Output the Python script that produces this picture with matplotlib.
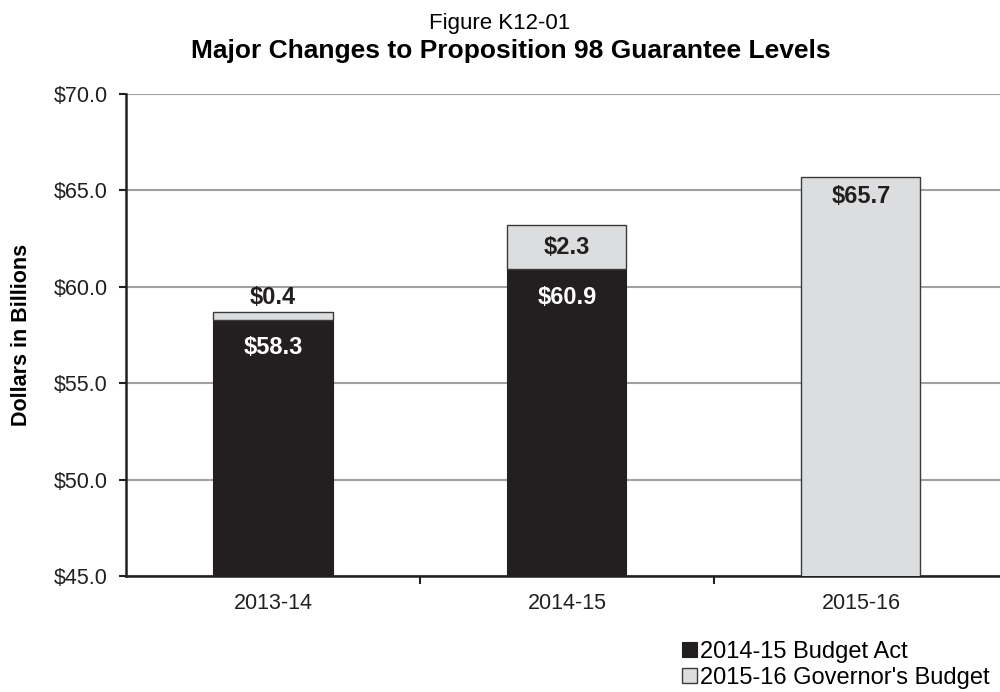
import matplotlib.pyplot as plt
import numpy as np

plt.rcParams['font.family'] = ['Liberation Sans', 'DejaVu Sans']

years = ['2013-14', '2014-15', '2015-16']
budget_act = [58.3, 60.9, 0.0]  # 2014-15 Budget Act
gov_change = [0.4, 2.3, 65.7]   # 2015-16 Governor's Budget (increment on top)
act_labels = ['$58.3', '$60.9', None]
gov_labels = ['$0.4', '$2.3', '$65.7']

black = '#231f20'
light = '#dcdddf'

fig = plt.figure(figsize=(10, 6.92), dpi=100)
ax = fig.add_axes([0.126, 0.1676, 0.874, 0.6965])

x = np.arange(len(years))
w = 0.405
ax.bar(x, budget_act, w, color=black, edgecolor=black, linewidth=0.8,
       label='2014-15 Budget Act', zorder=3)
ax.bar(x, gov_change, w, bottom=budget_act, color=light, edgecolor='#3a3a3a',
       linewidth=1.0, label="2015-16 Governor's Budget", zorder=3)

# value labels
for i in range(len(years)):
    top_act = budget_act[i]
    top_all = budget_act[i] + gov_change[i]
    if act_labels[i]:
        ax.annotate(act_labels[i], (x[i], top_act), xytext=(0, -20),
                    textcoords='offset points', ha='center', va='center',
                    color='white', fontsize=17, fontweight='bold', zorder=4)
    if i == 0:
        # segment too thin, label sits above the bar
        ax.annotate(gov_labels[i], (x[i], top_all), xytext=(0, 10.5),
                    textcoords='offset points', ha='center', va='center',
                    color=black, fontsize=17, fontweight='bold', zorder=4)
    elif i == 1:
        ax.text(x[i], budget_act[i] + gov_change[i] / 2, gov_labels[i],
                ha='center', va='center', color=black, fontsize=17,
                fontweight='bold', zorder=4)
    else:
        ax.annotate(gov_labels[i], (x[i], top_all), xytext=(0, -14),
                    textcoords='offset points', ha='center', va='center',
                    color=black, fontsize=17, fontweight='bold', zorder=4)

ax.set_ylim(45, 70)
ax.set_xlim(-0.5, 2.473)
ax.set_yticks([45, 50, 55, 60, 65, 70])
ax.set_yticklabels(['$%.1f' % v for v in [45, 50, 55, 60, 65, 70]], fontsize=15.5,
                   color='#231f20')
ax.yaxis.grid(True, color='#a0a0a0', linewidth=1.5, zorder=0)
ax.set_axisbelow(True)

# category boundaries as ticks, names on minor ticks
ax.set_xticks([0.5, 1.5])
ax.set_xticklabels([])
ax.set_xticks(x, minor=True)
ax.set_xticklabels(years, minor=True, fontsize=15.5, color='#231f20')
ax.tick_params(axis='x', which='minor', length=0, pad=12)
ax.tick_params(axis='x', which='major', length=6, width=1.5, color=black)
ax.tick_params(axis='y', length=5, width=1.5, color=black, pad=8)

for s in ['top', 'right']:
    ax.spines[s].set_visible(False)
for s in ['left', 'bottom']:
    ax.spines[s].set_linewidth(1.8)
    ax.spines[s].set_color(black)

ax.set_ylabel('Dollars in Billions', fontsize=15.5, fontweight='bold')
ax.yaxis.set_label_coords(-0.108, 0.5)

fig.text(0.5, 0.966, 'Figure K12-01', ha='center', va='center', fontsize=16)
fig.text(0.511, 0.926, 'Major Changes to Proposition 98 Guarantee Levels',
         ha='center', va='center', fontsize=19, fontweight='bold')

fig.legend(loc='upper left', bbox_to_anchor=(0.673, 0.088), frameon=False,
           fontsize=17, handlelength=0.6, handleheight=0.6, handletextpad=0.15,
           labelspacing=0.2, borderaxespad=0)

fig.savefig('out.png', dpi=100)
